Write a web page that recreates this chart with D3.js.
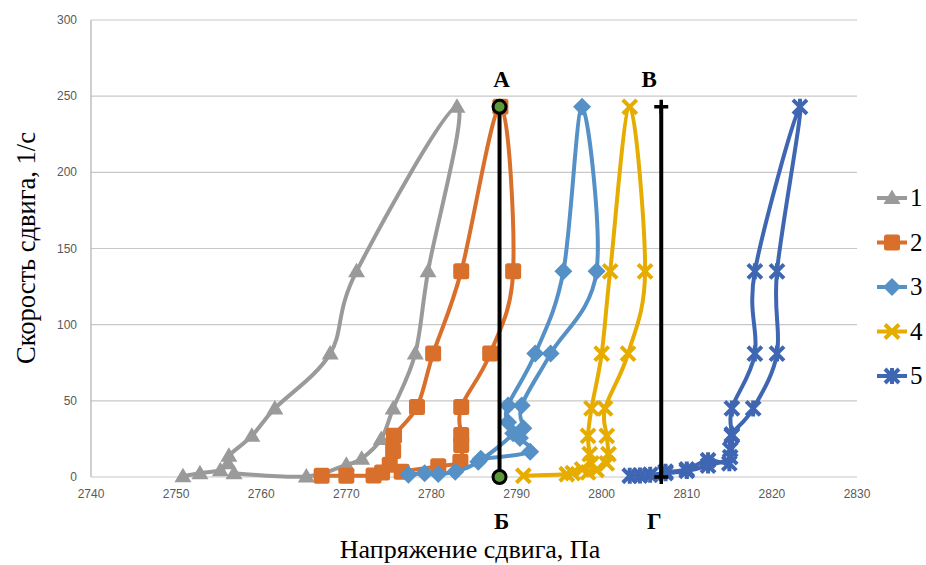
<!DOCTYPE html>
<html><head><meta charset="utf-8">
<script src="https://cdn.jsdelivr.net/npm/d3@7"></script>
<style>body{margin:0;background:#fff}svg{display:block}</style>
</head><body>
<svg id="c" width="926" height="565"></svg>
<script>
// ---- data (stress Pa, shear rate 1/s) ----
const seriesNames = ["1","2","3","4","5"];
const s1 = [[2750.8,0.5],[2752.8,2.5],[2755.2,4.5],[2756.1,9],[2756.2,14],[2758.9,27],[2761.6,45],[2768.1,81],[2771.2,135],[2783,243],[2779.6,135],[2778.1,81],[2775.5,45],[2774.1,25],[2771.8,12],[2770,8],[2765.3,0.3],[2756.8,2.5]];
const s2 = [[2767.1,0.8],[2770,0.8],[2773.2,1],[2774.2,3],[2775.1,8],[2775.5,17],[2775.6,27],[2778.3,46],[2780.2,81],[2783.5,135],[2788.1,243],[2789.6,135],[2786.9,81],[2783.5,46],[2783.5,27.5],[2783.5,21],[2783.4,10],[2780.8,7],[2776.5,3.5]];
const s3 = [[2777.3,1.5],[2779.2,2.5],[2780.8,2],[2782.8,3.5],[2785.5,10],[2789.6,28.7],[2789,36],[2789,47],[2792.2,81],[2795.5,135],[2797.7,243],[2799.4,135],[2794,81],[2790.6,47],[2790.8,32],[2790.4,25.6],[2791.6,16.6],[2785.8,12]];
const s4 = [[2790.8,0.8],[2795.9,1.8],[2796.6,2.6],[2797.7,5],[2798.8,9],[2798.6,15],[2798.4,27],[2798.8,45],[2800,81],[2801,135],[2803.3,243],[2805.1,135],[2803.1,81],[2800.4,45],[2800.6,27],[2800.8,15],[2800.6,9],[2799.4,4.6],[2798.4,3]];
const s5 = [[2803.3,0.8],[2804.5,1],[2805.7,1.5],[2807.5,2.5],[2810,4],[2812.5,7.5],[2815.1,13],[2815.3,27],[2815.3,45],[2818,81],[2818,135],[2823.3,243],[2820.6,135],[2820.6,81],[2817.8,45],[2815.3,28],[2815.1,18],[2815,9],[2812.5,11],[2810,5],[2807.5,3.5]];
const lineAB = [[2788,243],[2788,0]];
const lineVG = [[2807,243],[2807,0]];
const xTicks = [2740,2750,2760,2770,2780,2790,2800,2810,2820,2830];
const yTicks = [0,50,100,150,200,250,300];
const labelsAB = [["А",2788,"top"],["Б",2788,"bottom"]];
const labelsVG = [["В",2807,"top"],["Г",2807,"bottom"]];
const xTitle = "Напряжение сдвига, Па";
const yTitle = "Скорость сдвига, 1/с";

const colors = ["#9a9a9a","#d86f2b","#5591c6","#e6ac00","#3f66b2"];
const allSeries = [s1,s2,s3,s4,s5];

const svg = d3.select("#c");
const x = d3.scaleLinear().domain([2740,2830]).range([91,857]);
const y = d3.scaleLinear().domain([0,300]).range([477,20]);

// grid
svg.append("g").selectAll("line").data(yTicks.filter(d=>d>0)).join("line")
  .attr("x1",x(2740)).attr("x2",x(2830)).attr("y1",d=>y(d)).attr("y2",d=>y(d))
  .attr("stroke","#c8c8c8").attr("stroke-width",1.2);
svg.append("line").attr("x1",x(2740)).attr("x2",x(2740)).attr("y1",y(0)).attr("y2",y(300)).attr("stroke","#b0b0b0").attr("stroke-width",1.2);
svg.append("line").attr("x1",x(2740)).attr("x2",x(2830)).attr("y1",y(0)).attr("y2",y(0)).attr("stroke","#c8c8c8").attr("stroke-width",1.2);

// tick labels
svg.append("g").selectAll("text").data(yTicks).join("text")
  .attr("x",77).attr("y",d=>y(d)+4).attr("text-anchor","end")
  .attr("font-family","Liberation Sans, Arial, sans-serif").attr("font-size",12).attr("fill","#595959")
  .text(d=>d);
svg.append("g").selectAll("text").data(xTicks).join("text")
  .attr("x",d=>x(d)).attr("y",498).attr("text-anchor","middle")
  .attr("font-family","Liberation Sans, Arial, sans-serif").attr("font-size",12).attr("fill","#595959")
  .text(d=>d);

// titles
svg.append("text").attr("x",470).attr("y",558).attr("text-anchor","middle")
  .attr("font-family","Liberation Serif, Times New Roman, serif").attr("font-size",26).attr("fill","#000").text(xTitle);
svg.append("text").attr("transform","translate(35,248) rotate(-90)").attr("text-anchor","middle")
  .attr("font-family","Liberation Serif, Times New Roman, serif").attr("font-size",26.5).attr("fill","#000").text(yTitle);

// markers
function marker(g, i, cx, cy, col){
  const m = g.append("g").attr("transform",`translate(${cx},${cy})`);
  if(i===0){ m.append("path").attr("d","M0,-8.5L8.5,6L-8.5,6Z").attr("fill",col); }
  else if(i===1){ m.append("rect").attr("x",-8).attr("y",-8).attr("width",16).attr("height",16).attr("rx",2.5).attr("fill",col); }
  else if(i===2){ m.append("path").attr("d","M0,-9L9,0L0,9L-9,0Z").attr("fill",col); }
  else if(i===3){ m.append("path").attr("d","M-7,-7L7,7M7,-7L-7,7").attr("stroke",col).attr("stroke-width",4).attr("fill","none"); }
  else { m.append("path").attr("d","M-7,-7L7,7M7,-7L-7,7M0,-8L0,8").attr("stroke",col).attr("stroke-width",4).attr("fill","none"); }
}

const line = d3.line().x(d=>x(d[0])).y(d=>y(d[1])).curve(d3.curveCardinal.tension(0));
allSeries.forEach((s,i)=>{
  const g = svg.append("g");
  g.append("path").attr("d",line(s)).attr("fill","none").attr("stroke",colors[i]).attr("stroke-width",4).attr("stroke-linejoin","round");
  s.forEach(p=>marker(g,i,x(p[0]),y(p[1]),colors[i]));
});

// black lines
const straight = d3.line().x(d=>x(d[0])).y(d=>y(d[1]));
svg.append("path").attr("d",straight(lineAB)).attr("stroke","#000").attr("stroke-width",4).attr("fill","none");
svg.append("path").attr("d",straight(lineVG)).attr("stroke","#000").attr("stroke-width",4).attr("fill","none");
lineAB.forEach(p=>svg.append("circle").attr("cx",x(p[0])).attr("cy",y(p[1])).attr("r",6.5).attr("fill","#5a9a3a").attr("stroke","#000").attr("stroke-width",3));
lineVG.forEach(p=>svg.append("path").attr("transform",`translate(${x(p[0])},${y(p[1])})`).attr("d","M-7,0L7,0M0,-7L0,7").attr("stroke","#000").attr("stroke-width",3.5));

// letters
[...labelsAB,...labelsVG].forEach(l=>{
  svg.append("text").attr("x",x(l[1])+(l[0]==="В"?-12:(l[0]==="Г"?-7:2))).attr("y",l[2]==="top"?87:529).attr("text-anchor","middle")
    .attr("font-family","Liberation Serif, Times New Roman, serif").attr("font-weight","bold").attr("font-size",23).text(l[0]);
});

// legend
seriesNames.forEach((n,i)=>{
  const cy = 198 + i*44.5;
  svg.append("line").attr("x1",877).attr("x2",907).attr("y1",cy).attr("y2",cy).attr("stroke",colors[i]).attr("stroke-width",4);
  marker(svg,i,892,cy,colors[i]);
  svg.append("text").attr("x",910).attr("y",cy+8).attr("font-family","Liberation Serif, Times New Roman, serif").attr("font-size",25).text(n);
});
</script>
</body></html>
